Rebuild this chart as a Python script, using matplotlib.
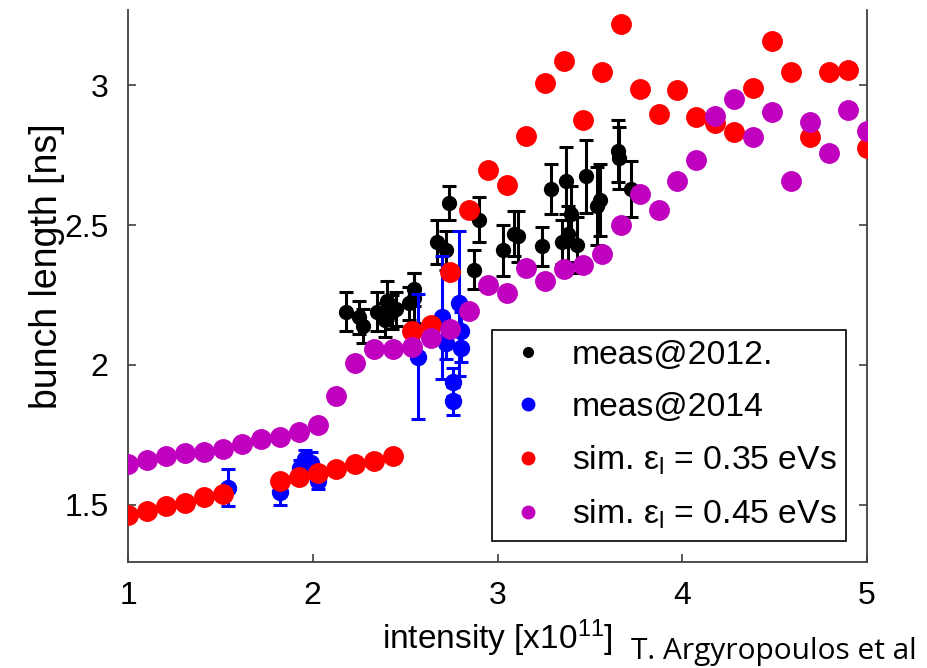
import numpy as np
import matplotlib

matplotlib.use("Agg")
import matplotlib.pyplot as plt
from matplotlib.lines import Line2D

plt.rcParams["font.family"] = ["Liberation Sans", "DejaVu Sans"]
plt.rcParams["mathtext.fontset"] = "custom"
plt.rcParams["mathtext.rm"] = "Liberation Sans"
plt.rcParams["mathtext.it"] = "Liberation Sans"

# simulation grid (intensity, 1e11)
sim_x = [1.0, 1.103, 1.205, 1.308, 1.41, 1.513, 1.615, 1.718, 1.821, 1.923,
         2.026, 2.128, 2.231, 2.333, 2.436, 2.538, 2.641, 2.744, 2.846, 2.949,
         3.051, 3.154, 3.256, 3.359, 3.462, 3.564, 3.667, 3.769, 3.872, 3.974,
         4.077, 4.179, 4.282, 4.385, 4.487, 4.59, 4.692, 4.795, 4.897, 5.0]

sim_035 = [1.463, 1.479, 1.497, 1.506, 1.526, 1.538, np.nan, np.nan, 1.586, 1.600,
           1.613, 1.627, 1.645, 1.657, 1.675, 2.121, 2.143, 2.332, 2.553, 2.699,
           2.643, 2.820, 3.008, 3.086, 2.875, 3.050, 3.219, 2.988, 2.899, 2.985,
           2.886, 2.866, 2.832, 2.991, 3.160, 3.050, 2.814, 3.050, 3.056, 2.776]

sim_045 = [1.645, 1.660, 1.675, 1.685, 1.690, 1.700, 1.717, 1.735, 1.744, 1.760,
           1.786, 1.890, 2.008, 2.058, 2.058, 2.066, 2.098, 2.128, 2.193, 2.285,
           2.259, 2.348, 2.300, 2.342, 2.357, 2.398, 2.500, 2.613, 2.554, 2.657,
           2.735, 2.892, 2.952, 2.814, 2.905, 2.660, 2.869, 2.759, 2.913, 2.838]

# measurements 2012
m12_x = [2.18, 2.25, 2.27, 2.35, 2.39, 2.40, 2.43, 2.45, 2.52, 2.55, 2.55,
         2.67, 2.72, 2.74, 2.87, 2.90, 3.03, 3.09, 3.11, 3.24, 3.29, 3.35,
         3.37, 3.38, 3.40, 3.43, 3.48, 3.54, 3.555, 3.65, 3.66, 3.72]
m12_y = [2.19, 2.17, 2.14, 2.19, 2.16, 2.23, 2.19, 2.20, 2.22, 2.24, 2.27,
         2.44, 2.41, 2.58, 2.34, 2.52, 2.41, 2.47, 2.46, 2.425, 2.63, 2.44,
         2.66, 2.47, 2.54, 2.43, 2.675, 2.57, 2.59, 2.765, 2.74, 2.63]
m12_err = [0.07, 0.06, 0.06, 0.07, 0.06, 0.07, 0.06, 0.06, 0.06, 0.09, 0.06,
           0.08, 0.07, 0.06, 0.07, 0.08, 0.09, 0.08, 0.09, 0.07, 0.09, 0.08,
           0.12, 0.10, 0.10, 0.10, 0.13, 0.14, 0.13, 0.11, 0.11, 0.10]

# measurements 2014
m14_x = [1.54, 1.82, 1.93, 1.96, 1.99, 2.03, 2.57, 2.70, 2.72, 2.76, 2.76, 2.79, 2.80, 2.80]
m14_y = [1.56, 1.545, 1.63, 1.665, 1.65, 1.585, 2.03, 2.17, 2.08, 1.94, 1.87, 2.22, 2.12, 2.06]
m14_err = [0.066, 0.045, 0.03, 0.03, 0.04, 0.03, 0.225, 0.22, 0.06, 0.05, 0.05, 0.26, 0.07, 0.05]

labels = ["meas@2012.", "meas@2014",
          r"sim. $\varepsilon_{\mathrm{l}}$ = 0.35 eVs",
          r"sim. $\varepsilon_{\mathrm{l}}$ = 0.45 eVs"]
colors = ["black", "#0000ff", "#ff0000", "#bf00bf"]

fig = plt.figure(figsize=(9.27, 6.68), dpi=100)
ax = fig.add_axes([0.1381, 0.1587, 0.7972, 0.8263])

ax.errorbar(m12_x, m12_y, yerr=m12_err, fmt="o", color=colors[0], ms=10,
            elinewidth=2.2, capsize=5, capthick=2.2, zorder=2)
ax.errorbar(m14_x, m14_y, yerr=m14_err, fmt="o", color=colors[1], ms=11.5,
            elinewidth=2.2, capsize=5, capthick=2.2, zorder=3)
ax.plot(sim_x, sim_035, "o", color=colors[2], ms=14, mec=colors[2], zorder=4)
ax.plot(sim_x, sim_045, "o", color=colors[3], ms=14, mec=colors[3], zorder=5)

ax.set_xlim(1, 5)
ax.set_ylim(1.295, 3.27)
ax.set_xticks([1, 2, 3, 4, 5])
ax.set_xticklabels(["1", "2", "3", "4", "5"])
ax.set_yticks([1.5, 2, 2.5, 3])
ax.set_yticklabels(["1.5", "2", "2.5", "3"])
ax.tick_params(direction="in", length=6, width=1.2, labelsize=23, color="#404040",
               right=True, pad=14)
for side in ["left", "right", "bottom"]:
    ax.spines[side].set_color("#404040")
    ax.spines[side].set_linewidth(1.3)
ax.spines["top"].set_visible(False)

ax.set_xlabel(r"intensity [x10$^{11}$]", fontsize=24)
ax.set_ylabel("bunch length [ns]", fontsize=27)
ax.xaxis.set_label_coords(0.5, -0.1)
ax.yaxis.set_label_coords(-0.085, 0.536)

handles = [Line2D([], [], ls="none", marker="o", color=c, ms=s)
           for c, s in zip(colors, [7, 9, 9, 9])]
leg = ax.legend(handles, labels, loc="upper left", bbox_to_anchor=(0.492, 0.42),
                borderaxespad=0, fontsize=24.3, frameon=True, fancybox=False,
                framealpha=1, edgecolor="black", handletextpad=0.5,
                labelspacing=0.62, borderpad=0.28, handlelength=1.6)
leg.get_frame().set_linewidth(1.2)

fig.text(0.681, 0.014, "T. Argyropoulos et al", fontsize=21.5,
         family=["Open Sans", "DejaVu Sans"])

fig.savefig("out.png", dpi=100)
